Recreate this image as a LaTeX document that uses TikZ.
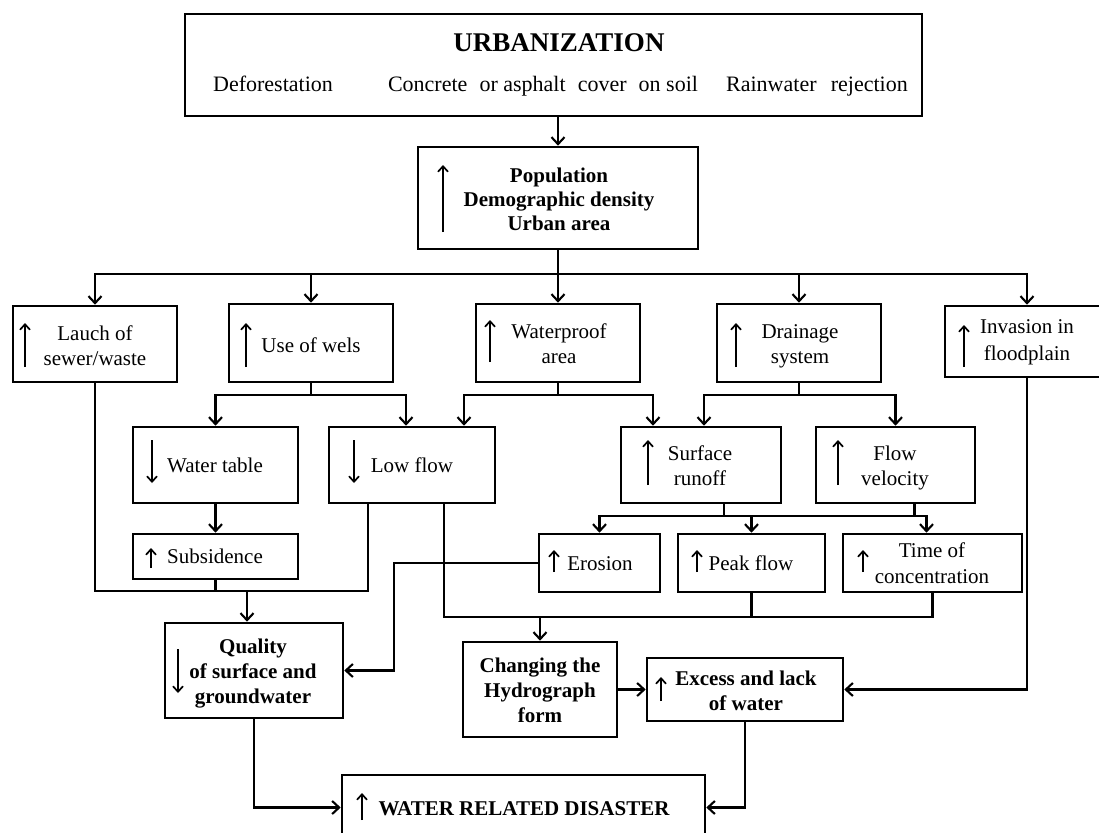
\documentclass[tikz,border=0pt]{standalone}
\usepackage{fontspec}
\setmainfont{Liberation Serif}
\usetikzlibrary{arrows.meta,fit}
\begin{document}
\begin{tikzpicture}[x=1pt,y=-1pt,
  box/.style={draw, line width=2.6pt, inner sep=0pt, rectangle},
  conn/.style={line width=2.1pt},
  arr/.style={conn, -{Straight Barb[length=7pt,width=13pt]}},
  ia/.style={line width=1.7pt, -{Straight Barb[length=5.5pt,width=10pt]}},
  txt/.style={font=\fontsize{21}{25}\selectfont, align=center, anchor=base, inner sep=0pt},
  btxt/.style={txt, font=\fontsize{21}{25}\selectfont\bfseries}]
\useasboundingbox (0,0) rectangle (1099,832);
% boxes
\node[box, fit={(185,14)(922,116)}] (top) {};
\node[box, fit={(418,147)(698,249)}] (pop) {};
\node[box, fit={(13,306)(177,382)}] (lauch) {};
\node[box, fit={(229,304)(393,382)}] (use) {};
\node[box, fit={(476,304)(640,382)}] (wp) {};
\node[box, fit={(717,304)(881,382)}] (drain) {};
\node[box, fit={(945,306)(1109,377)}] (inv) {};
\node[box, fit={(133,427)(298,503)}] (wt) {};
\node[box, fit={(329,427)(495,503)}] (low) {};
\node[box, fit={(133,534)(298,579)}] (sub) {};
\node[box, fit={(621,427)(781,503)}] (sr) {};
\node[box, fit={(816,427)(975,503)}] (fv) {};
\node[box, fit={(539,534)(660,592)}] (ero) {};
\node[box, fit={(678,534)(825,592)}] (peak) {};
\node[box, fit={(843,534)(1022,592)}] (toc) {};
\node[box, fit={(165,623)(343,718)}] (qual) {};
\node[box, fit={(463,642)(617,737)}] (hyd) {};
\node[box, fit={(647,658)(843,721)}] (exc) {};
\node[box, fit={(342,775)(705,840)}] (dis) {};
% texts (anchor = baseline of last line)
\node[btxt, font=\fontsize{27}{30}\selectfont\bfseries] (t0) at (559,52) {URBANIZATION};
\node[txt, font=\fontsize{22}{26}\selectfont] (t1) at (273,92) {Deforestation};
\node[txt, font=\fontsize{22}{26}\selectfont] (t2) at (543,92) {Concrete\hspace{0.3em} or asphalt\hspace{0.3em} cover\hspace{0.3em} on soil};
\node[txt, font=\fontsize{22}{26}\selectfont] (t3) at (817,92) {Rainwater\hspace{0.4em} rejection};
\node[btxt, font=\fontsize{21}{24}\selectfont\bfseries] (tpop) at (559,230) {Population\\Demographic density\\Urban area};
\node[txt] (tlauch) at (95,365) {Lauch of\\sewer/waste};
\node[txt] (tuse) at (311,352) {Use of wels};
\node[txt] (twp) at (559,363) {Waterproof\\area};
\node[txt] (tdrain) at (800,363) {Drainage\\system};
\node[txt, font=\fontsize{21}{27}\selectfont] (tinv) at (1027,360) {Invasion in\\floodplain};
\node[txt] (twt) at (215,472) {Water table};
\node[txt] (tlow) at (412,472) {Low flow};
\node[txt] (tsub) at (215,563) {Subsidence};
\node[txt] (tsr) at (700,485) {Surface\\runoff};
\node[txt] (tfv) at (895,485) {Flow\\velocity};
\node[txt] (tero) at (600,570) {Erosion};
\node[txt] (tpeak) at (751,570) {Peak flow};
\node[txt, font=\fontsize{21}{26}\selectfont] (ttoc) at (932,583) {Time of\\concentration};
\node[btxt] (tqual) at (253,703) {Quality\\of surface and\\groundwater};
\node[btxt] (thyd) at (540,722) {Changing the\\Hydrograph\\form};
\node[btxt] (texc) at (746,710) {Excess and lack\\of water};
\node[btxt] (tdis) at (524,815) {WATER RELATED DISASTER};
% inner arrows
\draw[ia] (443,232) -- (443,165);
\draw[ia] (25,367) -- (25,323);
\draw[ia] (246,367) -- (246,323);
\draw[ia] (490,362) -- (490,320);
\draw[ia] (736,367) -- (736,323);
\draw[ia] (964,367) -- (964,325);
\draw[ia] (152,440) -- (152,483);
\draw[ia] (354,440) -- (354,483);
\draw[ia] (151,568) -- (151,548);
\draw[ia] (648,485) -- (648,440);
\draw[ia] (838,485) -- (838,440);
\draw[ia] (554,572) -- (554,550);
\draw[ia] (697,572) -- (697,550);
\draw[ia] (863,572) -- (863,550);
\draw[ia] (178,649) -- (178,693);
\draw[ia] (661,701) -- (661,677);
\draw[ia] (362,820) -- (362,793);
% connectors
\draw[arr] (pop.north |- top.south) -- (pop.north);
\coordinate (b1) at (558,274);
\draw[conn] (pop.south) -- (b1);
\draw[arr] (b1) -| (lauch.north);
\draw[arr] (b1) -| (use.north);
\draw[arr] (b1) -- (wp.north);
\draw[arr] (b1) -| (drain.north);
\draw[arr] (b1) -| (inv.north);
\coordinate (b2) at (311,395);
\draw[conn] (use.south) -- (b2);
\draw[arr] (b2) -| (wt.north);
\draw[arr] (b2) -| ([xshift=-6pt]low.north);
\coordinate (b3) at (558,395);
\draw[conn] (wp.south) -- (b3);
\draw[arr] (b3) -| ([xshift=52pt]low.north);
\draw[arr] (b3) -| ([xshift=-48pt]sr.north);
\coordinate (b4) at (799,395);
\draw[conn] (drain.south) -- (b4);
\draw[arr] (b4) -| ([xshift=3pt]sr.north);
\draw[arr] (b4) -| (fv.north);
\draw[arr] (wt.south) -- (sub.north);
\coordinate (b5) at (247,591);
\draw[conn] (lauch.south) |- (b5) -| ([xshift=-44pt]low.south);
\draw[conn] (sub.south) -- (sub.south |- b5);
\draw[arr] (b5) -- (b5 |- qual.north);
\coordinate (c1) at (394,563);
\draw[arr] (ero.west) -- (c1) |- (qual.east);
\coordinate (b6) at (540,617);
\draw[conn] ([xshift=32pt]low.south) |- (b6) -| (toc.south);
\draw[conn] (peak.south) -- (peak.south |- b6);
\draw[arr] (b6) -- (hyd.north);
\coordinate (b7) at (724,516);
\draw[conn] ([xshift=23pt]sr.south) -- (b7);
\draw[arr] (b7) -| (ero.north);
\draw[arr] (b7) -| (peak.north);
\draw[arr] (b7) -| ([xshift=-6pt]toc.north);
\draw[conn] ([xshift=19pt]fv.south) -- ([xshift=19pt]fv.south |- b7);
\draw[arr] (hyd.east) -- (exc.west);
\draw[arr] (inv.south) |- (exc.east);
\draw[arr] (qual.south) |- (dis.west);
\draw[arr] (exc.south) |- (dis.east);
\end{tikzpicture}
\end{document}
